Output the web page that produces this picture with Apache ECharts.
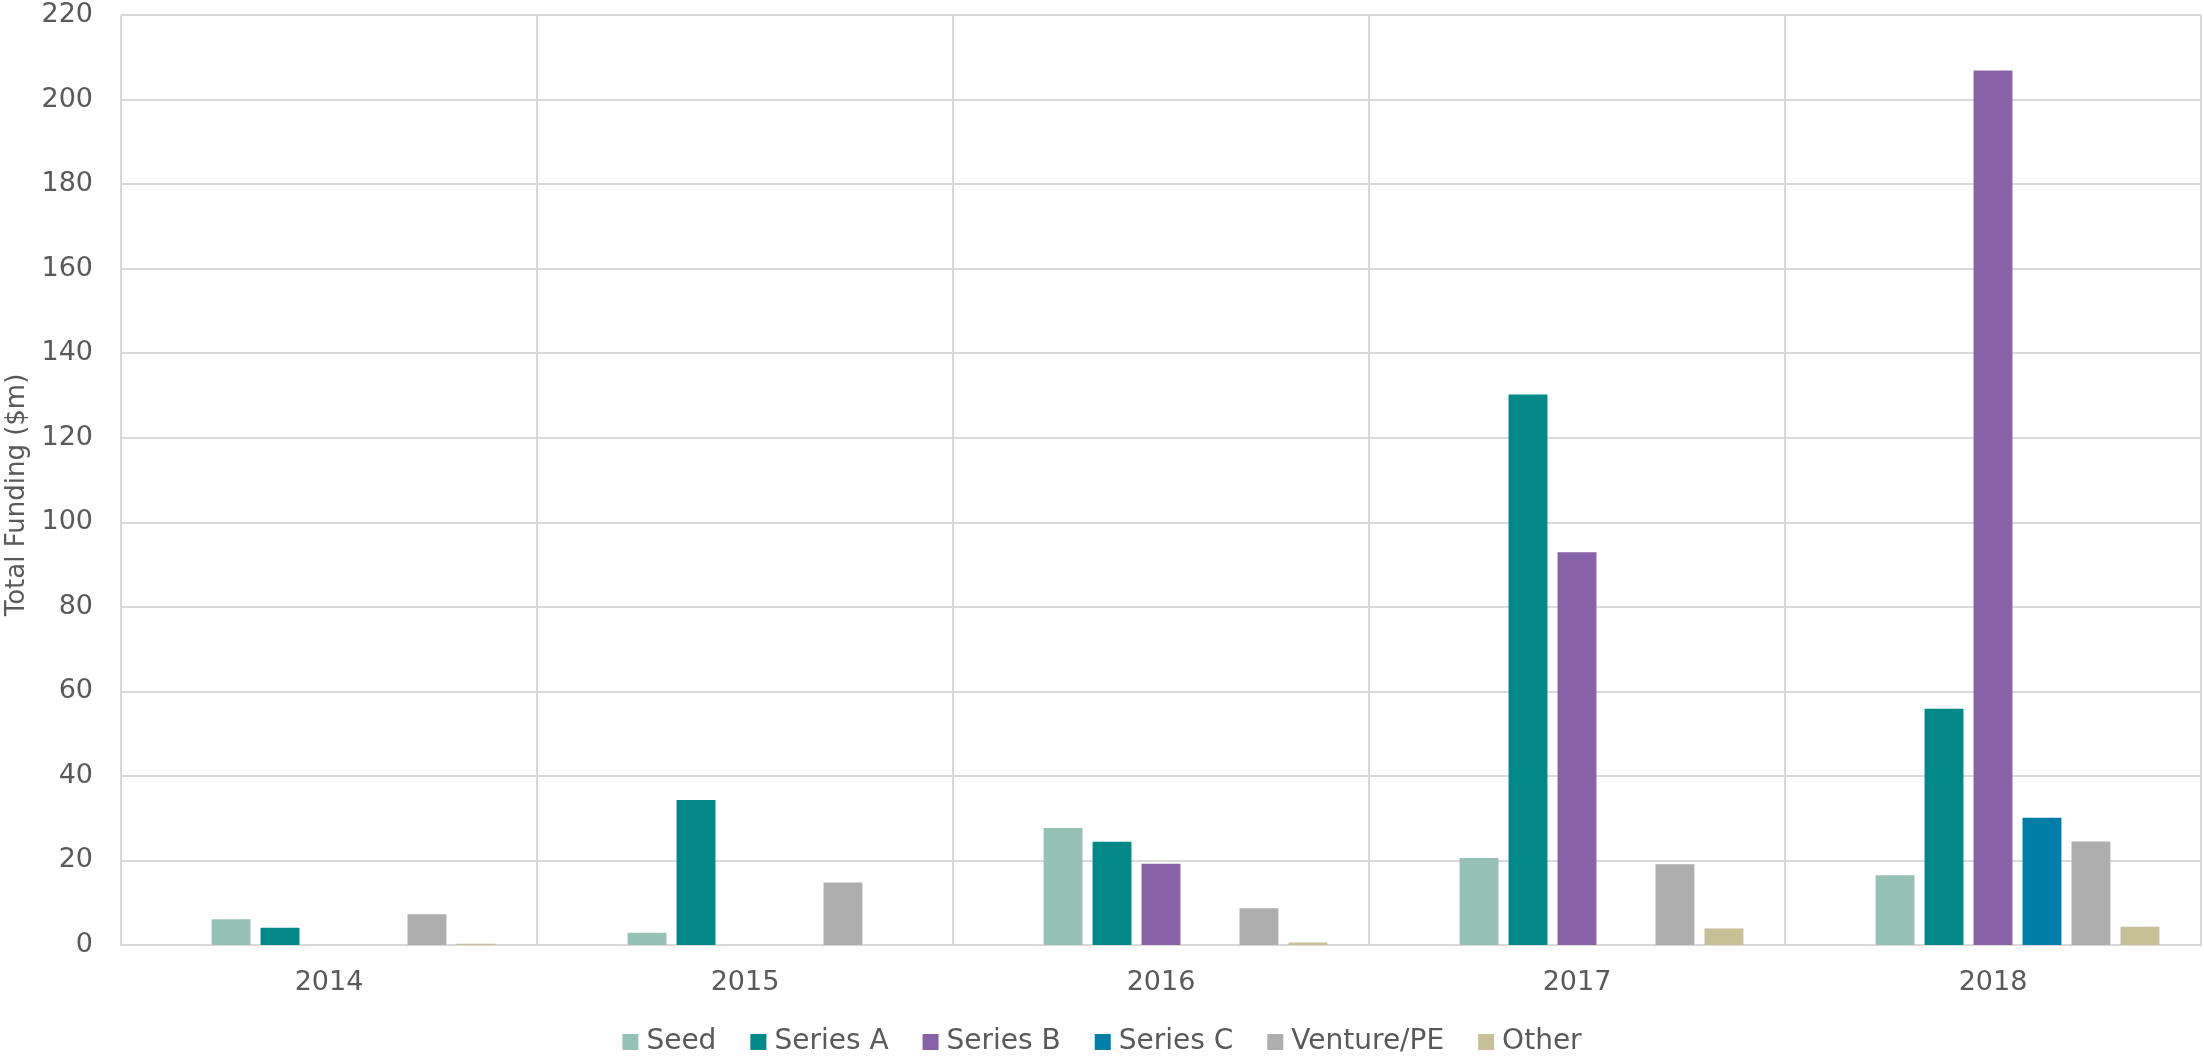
<!DOCTYPE html>
<html lang="en">

<head>
	<meta charset="UTF-8">
	<script src="https://cdn.jsdelivr.net/npm/echarts@6.0.0/dist/echarts.min.js"></script>
	<title>Total Funding by Round</title>
	<style>
		html, body { margin: 0; padding: 0; background: #fff; }
		#chart { width: 2204px; height: 1057px; }
	</style>
</head>

<body>
	<div id="chart"></div>

	<script>
		// years on the x axis
		var years = ['2014', '2015', '2016', '2017', '2018'];

		// funding per round, $m
		var unnamed = [null, null, null, null, null]; // empty series, keeps its slot in each group
		var seed = [6.1, 2.9, 27.7, 20.6, 16.5];
		var seriesA = [4.1, 34.3, 24.4, 130.2, 55.9];
		var seriesB = [null, null, 19.2, 92.9, 206.9];
		var seriesC = [null, null, null, null, 30.1];
		var venturePE = [7.3, 14.8, 8.7, 19.1, 24.5];
		var other = [0.3, null, 0.6, 3.9, 4.3];

		var yTicks = { min: 0, max: 220, interval: 20 };

		var textColor = '#595959';
		var gridColor = '#d9d9d9';
		var font = 'DejaVu Sans';

		function bar(name, data, color) {
			return {
				name: name,
				type: 'bar',
				data: data,
				barGap: '26%',
				barCategoryGap: '20%',
				itemStyle: { color: color },
				emphasis: { disabled: true }
			};
		}

		var chart = echarts.init(document.getElementById('chart'));

		chart.setOption({
			animation: false,
			textStyle: { fontFamily: font, color: textColor },
			grid: {
				left: 121,
				right: 3,
				top: 15,
				bottom: 112,
				containLabel: false,
				outerBoundsMode: 'none'
			},
			legend: {
				data: ['Seed', 'Series A', 'Series B', 'Series C', 'Venture/PE', 'Other'],
				left: 'center',
				top: 1023,
				icon: 'rect',
				itemWidth: 16,
				itemHeight: 16,
				itemGap: 34,
				textStyle: { fontFamily: font, fontSize: 28, color: textColor, padding: [0, 0, 0, 3] }
			},
			xAxis: {
				type: 'category',
				data: years,
				axisTick: { show: false },
				axisLine: { lineStyle: { color: gridColor, width: 2 } },
				splitLine: { show: true, lineStyle: { color: gridColor, width: 2 } },
				axisLabel: { fontFamily: font, fontSize: 27, color: textColor, margin: 24 }
			},
			yAxis: {
				type: 'value',
				min: yTicks.min,
				max: yTicks.max,
				interval: yTicks.interval,
				name: 'Total Funding ($m)',
				nameLocation: 'middle',
				nameRotate: 90,
				nameGap: 88,
				nameTextStyle: { fontFamily: font, fontSize: 26, color: textColor, padding: [0, 30, 0, 0] },
				axisLine: { show: false },
				axisTick: { show: false },
				splitLine: { lineStyle: { color: gridColor, width: 2 } },
				axisLabel: { fontFamily: font, fontSize: 27, color: textColor, margin: 28 }
			},
			series: [
				bar('', unnamed, '#cccccc'),
				bar('Seed', seed, '#95c2b4'),
				bar('Series A', seriesA, '#008986'),
				bar('Series B', seriesB, '#8762a7'),
				bar('Series C', seriesC, '#017ea7'),
				bar('Venture/PE', venturePE, '#aeaeae'),
				bar('Other', other, '#c7bf96')
			]
		});
	</script>
</body>

</html>
